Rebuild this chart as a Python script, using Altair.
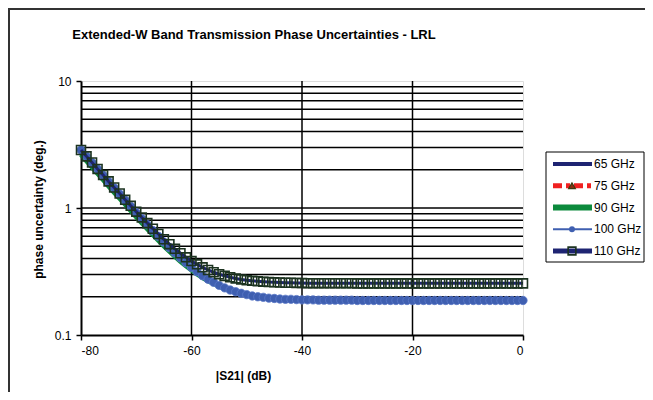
import altair as alt
import pandas as pd

FONT = "Liberation Sans"

s21_db = list(range(-80, 1))

phase_65 = [2.86, 2.55, 2.27, 2.03, 1.81, 1.61, 1.44, 1.29, 1.15, 1.03,
            0.920, 0.825, 0.740, 0.665, 0.599, 0.540, 0.489, 0.444, 0.405, 0.371,
            0.341, 0.315, 0.293, 0.275, 0.260, 0.246, 0.235, 0.226, 0.219, 0.213,
            0.208, 0.203, 0.200, 0.198, 0.195, 0.194, 0.192, 0.191, 0.191, 0.190,
            0.189, 0.189, 0.189, 0.188, 0.188, 0.188, 0.188, 0.188, 0.188, 0.188,
            0.187, 0.187, 0.187, 0.187, 0.187, 0.187, 0.187, 0.187, 0.187, 0.187,
            0.187, 0.187, 0.187, 0.187, 0.187, 0.187, 0.187, 0.187, 0.187, 0.187,
            0.187, 0.187, 0.187, 0.187, 0.187, 0.187, 0.187, 0.187, 0.187, 0.187,
            0.187]

phase_75 = [2.85, 2.54, 2.27, 2.02, 1.81, 1.61, 1.44, 1.28, 1.15, 1.03,
            0.918, 0.823, 0.738, 0.663, 0.597, 0.538, 0.488, 0.443, 0.404, 0.370,
            0.340, 0.314, 0.292, 0.274, 0.259, 0.246, 0.235, 0.226, 0.219, 0.213,
            0.208, 0.204, 0.200, 0.198, 0.196, 0.194, 0.193, 0.192, 0.191, 0.190,
            0.190, 0.189, 0.189, 0.189, 0.189, 0.188, 0.188, 0.188, 0.188, 0.188,
            0.188, 0.188, 0.188, 0.188, 0.188, 0.188, 0.188, 0.188, 0.188, 0.188,
            0.188, 0.188, 0.188, 0.188, 0.188, 0.188, 0.188, 0.188, 0.188, 0.188,
            0.188, 0.188, 0.188, 0.188, 0.188, 0.188, 0.188, 0.188, 0.188, 0.188,
            0.188]

phase_90 = [2.64, 2.35, 2.10, 1.87, 1.67, 1.49, 1.33, 1.19, 1.07, 0.955,
            0.852, 0.764, 0.686, 0.617, 0.557, 0.503, 0.457, 0.416, 0.381, 0.351,
            0.325, 0.302, 0.283, 0.267, 0.254, 0.242, 0.232, 0.224, 0.217, 0.211,
            0.206, 0.202, 0.199, 0.197, 0.195, 0.193, 0.192, 0.191, 0.190, 0.190,
            0.189, 0.189, 0.189, 0.188, 0.188, 0.188, 0.188, 0.188, 0.188, 0.188,
            0.187, 0.187, 0.187, 0.187, 0.187, 0.187, 0.187, 0.187, 0.187, 0.187,
            0.187, 0.187, 0.187, 0.187, 0.187, 0.187, 0.187, 0.187, 0.187, 0.187,
            0.187, 0.187, 0.187, 0.187, 0.187, 0.187, 0.187, 0.187, 0.187, 0.187,
            0.187]

phase_100 = [2.86, 2.55, 2.27, 2.03, 1.81, 1.61, 1.44, 1.29, 1.15, 1.03,
             0.920, 0.825, 0.740, 0.665, 0.599, 0.540, 0.489, 0.444, 0.405, 0.371,
             0.341, 0.315, 0.293, 0.275, 0.260, 0.246, 0.235, 0.226, 0.219, 0.213,
             0.208, 0.203, 0.200, 0.198, 0.195, 0.194, 0.192, 0.191, 0.191, 0.190,
             0.189, 0.189, 0.189, 0.188, 0.188, 0.188, 0.188, 0.188, 0.188, 0.188,
             0.187, 0.187, 0.187, 0.187, 0.187, 0.187, 0.187, 0.187, 0.187, 0.187,
             0.187, 0.187, 0.187, 0.187, 0.187, 0.187, 0.187, 0.187, 0.187, 0.187,
             0.187, 0.187, 0.187, 0.187, 0.187, 0.187, 0.187, 0.187, 0.187, 0.187,
             0.187]

phase_110 = [2.86, 2.55, 2.28, 2.03, 1.82, 1.62, 1.45, 1.30, 1.16, 1.04,
             0.936, 0.843, 0.760, 0.687, 0.624, 0.567, 0.519, 0.477, 0.440, 0.409,
             0.382, 0.360, 0.341, 0.325, 0.312, 0.301, 0.292, 0.285, 0.279, 0.274,
             0.270, 0.267, 0.265, 0.263, 0.261, 0.260, 0.259, 0.258, 0.258, 0.257,
             0.257, 0.256, 0.256, 0.256, 0.256, 0.256, 0.256, 0.256, 0.256, 0.256,
             0.255, 0.255, 0.255, 0.255, 0.255, 0.255, 0.255, 0.255, 0.255, 0.255,
             0.255, 0.255, 0.255, 0.255, 0.255, 0.255, 0.255, 0.255, 0.255, 0.255,
             0.255, 0.255, 0.255, 0.255, 0.255, 0.255, 0.255, 0.255, 0.255, 0.255,
             0.255]

series_names = ["65 GHz", "75 GHz", "90 GHz", "100 GHz", "110 GHz"]
x_ticks = [-80, -60, -40, -20, 0]
y_ticks = [0.1, 1, 10]
h_grid = [0.2, 0.3, 0.4, 0.5, 0.6, 0.7, 0.8, 0.9, 1, 2, 3, 4, 5, 6, 7, 8, 9]
v_grid = [-60, -40, -20]

df = pd.DataFrame({"x": s21_db, "p65": phase_65, "p75": phase_75,
                   "p90": phase_90, "p100": phase_100, "p110": phase_110})
hgdf = pd.DataFrame({"y": h_grid})
vdf = pd.DataFrame({"x": v_grid})
legend_df = pd.DataFrame({"series": series_names})
one = pd.DataFrame({"a": [0]})

xs = alt.Scale(domain=[-80, 0], nice=False, zero=False)
ys = alt.Scale(type="log", domain=[0.1, 10], nice=False)

x_axis = alt.Axis(values=x_ticks, grid=False, title="|S21| (dB)",
                  labelExpr="toString(datum.value)",
                  domainColor="black", domainWidth=2, tickColor="black",
                  tickWidth=1.5, tickSize=5, labelFont=FONT, labelFontSize=12,
                  labelColor="black", labelPadding=5, titleFont=FONT,
                  titleFontSize=12, titleFontWeight="bold", titleColor="black",
                  titleX=162, titleY=35, titleAlign="center", titleBaseline="top")
y_axis = alt.Axis(values=y_ticks, format="~g", grid=False,
                  title="phase uncertainty (deg.)",
                  domainColor="black", domainWidth=2, tickColor="black",
                  tickWidth=1.5, tickSize=5, labelFont=FONT, labelFontSize=12,
                  labelColor="black", labelPadding=5, titleFont=FONT,
                  titleFontSize=12, titleFontWeight="bold", titleColor="black",
                  titleX=-43, titleY=128, titleAngle=270, titleAlign="center",
                  titleBaseline="middle")

base = alt.Chart(df)

def X(field="x:Q"):
    return alt.X(field, scale=xs, axis=x_axis, title="|S21| (dB)")

def Y(field):
    return alt.Y(field, type="quantitative", scale=ys, axis=y_axis,
                 title="phase uncertainty (deg.)")

hgrid = alt.Chart(hgdf).mark_rule(color="black", strokeWidth=1.5).encode(y=Y("y"))
vgrid = alt.Chart(vdf).mark_rule(color="black", strokeWidth=1.5).encode(x=X())

l65 = base.mark_line(color="#1E2472", strokeWidth=3).encode(x=X(), y=Y("p65"))
l75 = base.mark_line(color="#F02020", strokeWidth=3, strokeDash=[8, 4]).encode(
    x=X(), y=Y("p75"))
m75 = base.mark_point(shape="triangle-up", filled=True, size=25, fill="#8B2A10",
                      stroke="#3A3A10", strokeWidth=0.8, opacity=1).encode(
    x=X(), y=Y("p75"))
l90 = base.mark_line(color="#0C8A3C", strokeWidth=5).encode(x=X(), y=Y("p90"))
l100 = base.mark_line(color="#3F5FB0", strokeWidth=1.5).encode(x=X(), y=Y("p100"))
m100 = base.mark_circle(size=70, color="#3F5FB0", opacity=1, stroke="#5A78C8",
                        strokeWidth=0.8).encode(x=X(), y=Y("p100"))
l110 = base.mark_line(color="#1E2472", strokeWidth=3).encode(x=X(), y=Y("p110"))
m110 = base.mark_point(shape="square", filled=False, size=80, color="#1C3320",
                       strokeWidth=1.6, opacity=1).encode(x=X(), y=Y("p110"))

plot_layers = alt.layer(hgrid, vgrid, l65, l75, m75, l90, l100, m100, l110, m110)

# legend
ly = alt.Y("series:N", scale=alt.Scale(type="point", domain=series_names,
                                       range=[83, 170], padding=0), axis=None)
lbase = alt.Chart(legend_df)

def lrule(name, **kw):
    return lbase.transform_filter(alt.datum.series == name).mark_rule(**kw).encode(
        x=alt.value(472), x2=alt.value(511), y=ly)

def lmark(name, **kw):
    return lbase.transform_filter(alt.datum.series == name).mark_point(**kw).encode(
        x=alt.value(491), y=ly)

legend_box = alt.Chart(one).mark_rect(fill="white", stroke="black", strokeWidth=1).encode(
    x=alt.value(465), x2=alt.value(563), y=alt.value(71), y2=alt.value(181))
lg = [
    legend_box,
    lrule("65 GHz", color="#1E2472", strokeWidth=4),
    lrule("75 GHz", color="#F02020", strokeWidth=5, strokeDash=[9, 4, 4, 4]),
    lmark("75 GHz", shape="triangle-up", filled=True, size=45, fill="#8B2A10",
          stroke="#3A3A10", strokeWidth=1.2, opacity=1),
    lrule("90 GHz", color="#0C8A3C", strokeWidth=6),
    lrule("100 GHz", color="#3F5FB0", strokeWidth=2),
    lmark("100 GHz", shape="circle", filled=True, size=35, color="#3F5FB0", opacity=1),
    lrule("110 GHz", color="#1E2472", strokeWidth=5),
    lmark("110 GHz", shape="square", filled=False, size=60, color="#1C3320",
          strokeWidth=1.6, opacity=1),
    lbase.mark_text(align="left", baseline="middle", font=FONT, fontSize=12,
                    color="black").encode(x=alt.value(513), y=ly, text="series:N"),
    alt.Chart(one).mark_rule(color="#333333", strokeWidth=2).encode(
        x=alt.value(-73), x2=alt.value(564), y=alt.value(-72)),
    alt.Chart(one).mark_rule(color="#333333", strokeWidth=2).encode(
        x=alt.value(-72), y=alt.value(-73), y2=alt.value(311)),
]
legend_layers = alt.layer(*lg)

chart = alt.layer(plot_layers, legend_layers).resolve_scale(y="independent").properties(
    width=442, height=254,
    autosize=alt.AutoSizeParams(type="none"),
    padding={"left": 73, "top": 73, "right": 122, "bottom": 57},
    title=alt.TitleParams(
        text="Extended-W Band Transmission Phase Uncertainties - LRL",
        font=FONT, fontSize=13, fontWeight="bold", color="black",
        anchor="middle", dx=-48, offset=-48, baseline="bottom", frame="group"),
).configure_view(stroke="#808080", strokeWidth=2).configure(background="white")

chart.save("out.html", embed_options={"renderer": "svg", "actions": False})
